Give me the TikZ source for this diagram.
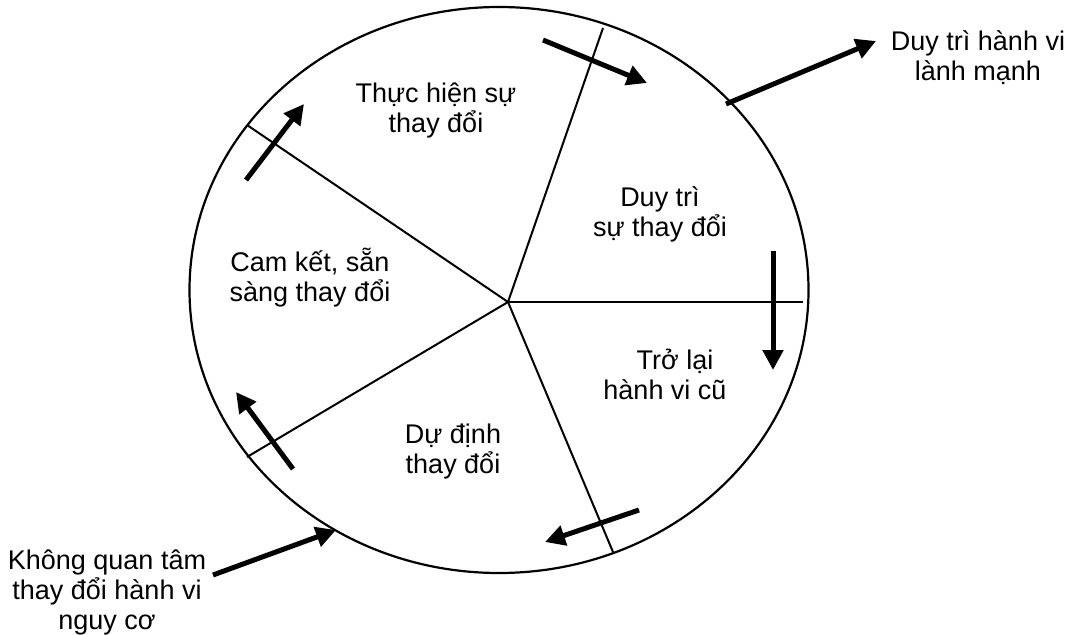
\documentclass[tikz,border=0pt]{standalone}
\usepackage{fontspec}
\setmainfont{Liberation Sans}
\usetikzlibrary{arrows.meta}
\begin{document}
\begin{tikzpicture}[x=1pt,y=-1pt,
  rim/.style={line width=2.2pt},
  spoke/.style={line width=2pt},
  bigarrow/.style={line width=5pt,-{Triangle[length=20pt,width=20pt]}},
  lbl/.style={font=\fontsize{27}{30}\selectfont,align=center,inner sep=0pt}]
\useasboundingbox (0,0) rectangle (1075,634);
% ellipse
\draw[rim] (499,290) ellipse [x radius=309.5, y radius=283];
% spokes
\coordinate (hub) at (508,302);
\coordinate (sTop) at (603,28);
\coordinate (sUL) at (247,125);
\coordinate (sR) at (803,302);
\coordinate (sLL) at (247,457);
\coordinate (sB) at (613,552);
\draw[spoke] (hub) -- (sTop);
\draw[spoke] (hub) -- (sUL);
\draw[spoke] (hub) -- (sR);
\draw[spoke] (hub) -- (sLL);
\draw[spoke] (hub) -- (sB);
% arrows across spokes
\coordinate (a1s) at (543,40);   \coordinate (a1e) at (647,83);
\coordinate (a2s) at (246,180);  \coordinate (a2e) at (304,104);
\coordinate (a3s) at (773,251);  \coordinate (a3e) at (773,370);
\coordinate (a4s) at (293,469);  \coordinate (a4e) at (236,392);
\coordinate (a5s) at (639,510);  \coordinate (a5e) at (545,542);
\draw[bigarrow] (a1s) -- (a1e);
\draw[bigarrow] (a2s) -- (a2e);
\draw[bigarrow] (a3s) -- (a3e);
\draw[bigarrow] (a4s) -- (a4e);
\draw[bigarrow] (a5s) -- (a5e);
% external arrows
\coordinate (outS) at (726,104); \coordinate (outE) at (876,41);
\coordinate (inS) at (213,575);  \coordinate (inE) at (336,530);
\draw[bigarrow] (outS) -- (outE);
\draw[bigarrow] (inS) -- (inE);
% labels
\node[lbl] (tThuc) at (436,110) {Thực hiện sự\\thay đổi};
\node[lbl] (tDuy) at (660,214) {Duy trì\\sự thay đổi};
\node[lbl] (tCam) at (310,278) {Cam kết, sẵn\\sàng thay đổi};
\node[lbl] (tTro) at (665,374) {\hspace*{20pt}Trở lại\\hành vi cũ};
\node[lbl] (tDu) at (453,452) {Dự định\\thay đổi};
\node[lbl] (tOut) at (978,58) {Duy trì hành vi\\lành mạnh};
\node[lbl] (tIn) at (107,592) {Không quan tâm\\thay đổi hành vi\\nguy cơ};
\end{tikzpicture}
\end{document}
